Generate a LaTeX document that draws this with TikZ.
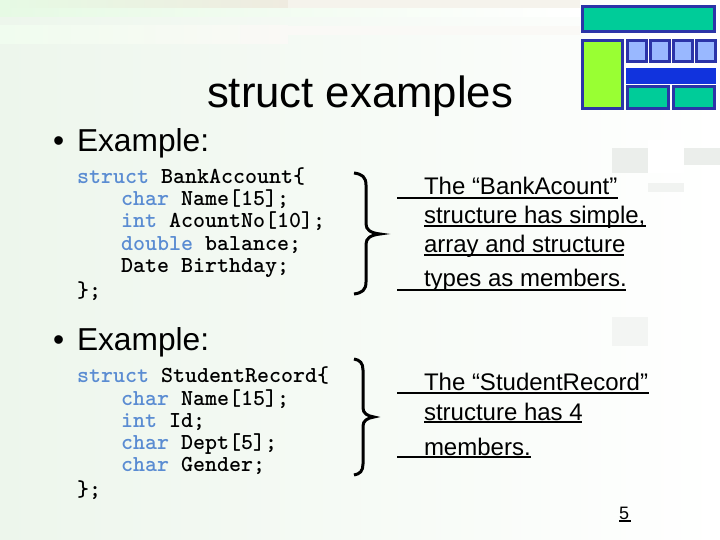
\documentclass[tikz,border=0pt]{standalone}
\usepackage{fontspec}
\setmainfont{Liberation Sans}
\definecolor{logoedge}{HTML}{2B34A8}
\definecolor{logoteal}{HTML}{00CC99}
\definecolor{logolime}{HTML}{99FF33}
\definecolor{logosky}{HTML}{99B8FF}
\definecolor{logoblue}{HTML}{1133DD}
\definecolor{pagetint}{HTML}{EDF6EC}
\definecolor{keyblue}{HTML}{5A8CD2}
\definecolor{patchgrey}{HTML}{EBEEEB}
\definecolor{bandbeige}{HTML}{EFEBE0}
\definecolor{bandgreen}{HTML}{E6FAE4}
\newcommand{\kw}[1]{\textcolor{keyblue}{#1}}
\tikzset{
 txt/.style={anchor=base west, inner sep=0, outer sep=0},
 codeline/.style={txt, font=\fontsize{22.86}{24}\ttfamily\bfseries},
 headline/.style={txt, font=\fontsize{31.7}{36}\selectfont},
 remark/.style={txt, font=\fontsize{24}{28}\selectfont},
 rule/.style={black, line width=1.8},
 logobox/.style={draw=logoedge, line width=3},
 bigbrace/.style={black, line width=3}
}
\begin{document}
\begin{tikzpicture}[x=1pt,y=-1pt]
\useasboundingbox (0,0) rectangle (720,540);
\shade[left color=pagetint, right color=white] (0,0) rectangle (720,540);
% faint bands and patches
\shade[left color=bandgreen, right color=bandbeige] (0,0) rectangle (288,9);
\fill[bandbeige!60!white] (288,0) rectangle (580,9);
\shade[left color=bandgreen, right color=white] (0,9) rectangle (580,17);
\shade[left color=bandgreen!60!white, right color=bandbeige!30!white] (0,26) rectangle (288,44);
\fill[bandbeige!30!white] (288,26) rectangle (580,35);
\fill[patchgrey] (612,148) rectangle (648,173);
\fill[patchgrey] (684,148) rectangle (720,165);
\fill[patchgrey!70!white] (648,183) rectangle (684,192);
\fill[patchgrey!60!white] (612,317) rectangle (648,346);
\fill[white] (648,140) rectangle (684,173);
% logo
\filldraw[logobox, fill=logoteal] (582.5,6.5) rectangle (714.5,31.5);
\filldraw[logobox, fill=logolime] (582.5,40.5) rectangle (622.5,108.5);
\foreach \x in {627,650,673,696} {
 \filldraw[logobox, fill=logosky] (\x+.5,40.5) rectangle (\x+19,61.5);
}
\fill[logoblue] (626,68) rectangle (716,84);
\filldraw[logobox, fill=logoteal] (627.5,86.5) rectangle (668.5,108.5);
\filldraw[logobox, fill=logoteal] (673.5,86.5) rectangle (714.5,108.5);
% headings
\node[txt, font=\fontsize{43.7}{48}\selectfont] (title) at (207,108) {struct examples};
\node[headline] (bulletA) at (53,152) {•};
\node[headline] (exampleA) at (77,152) {Example:};
\node[headline] (bulletB) at (53,350) {•};
\node[headline] (exampleB) at (77,350) {Example:};
% first struct
\node[codeline] (bankA) at (77,184) {\kw{struct} BankAccount\{};
\node[codeline] (bankB) at (121,206) {\kw{char} Name[15];};
\node[codeline] (bankC) at (121,228) {\kw{int} AcountNo[10];};
\node[codeline] (bankD) at (121,250) {\kw{double} balance;};
\node[codeline] (bankE) at (121,272) {Date Birthday;};
\node[codeline] (bankF) at (77,297) {\};};
% second struct
\node[codeline] (studA) at (77,382) {\kw{struct} StudentRecord\{};
\node[codeline] (studB) at (121,405) {\kw{char} Name[15];};
\node[codeline] (studC) at (121,427) {\kw{int} Id;};
\node[codeline] (studD) at (121,449) {\kw{char} Dept[5];};
\node[codeline] (studE) at (121,471) {\kw{char} Gender;};
\node[codeline] (studF) at (77,496) {\};};
% braces
\draw[bigbrace] (354,173) .. controls (362,174) and (366,177) .. (366,185) -- (366,224)
 .. controls (366,230) and (371,233) .. (380,234) .. controls (371,235) and (366,238) .. (366,244)
 -- (366,282) .. controls (366,290) and (362,293) .. (354,294);
\draw[bigbrace] (354,359) .. controls (360,360) and (363,363) .. (363,370) -- (363,408)
 .. controls (363,413) and (367,416) .. (374,417) .. controls (367,418) and (363,421) .. (363,426)
 -- (363,464) .. controls (363,471) and (360,474) .. (354,475);
% remarks
\node[remark] (noteA) at (424,195) {The “BankAcount”};
\node[remark] (noteB) at (424,223) {structure has simple,};
\node[remark] (noteC) at (424,252) {array and structure};
\node[remark] (noteD) at (424,286) {types as members.};
\draw[rule] (397,198) -- (618,198);
\draw[rule] (424,226) -- (646,226);
\draw[rule] (424,255) -- (624,255);
\draw[rule] (397,290) -- (626,290);
\node[remark] (noteE) at (424,390) {The “StudentRecord”};
\node[remark] (noteF) at (424,420) {structure has 4};
\node[remark] (noteG) at (424,455) {members.};
\draw[rule] (397,393) -- (649,393);
\draw[rule] (424,422) -- (582,422);
\draw[rule] (397,457) -- (531,457);
\node[txt, font=\fontsize{18}{20}\selectfont] (pagenum) at (619,519) {5};
\draw[rule] (619,521) -- (631,521);
\end{tikzpicture}
\end{document}
